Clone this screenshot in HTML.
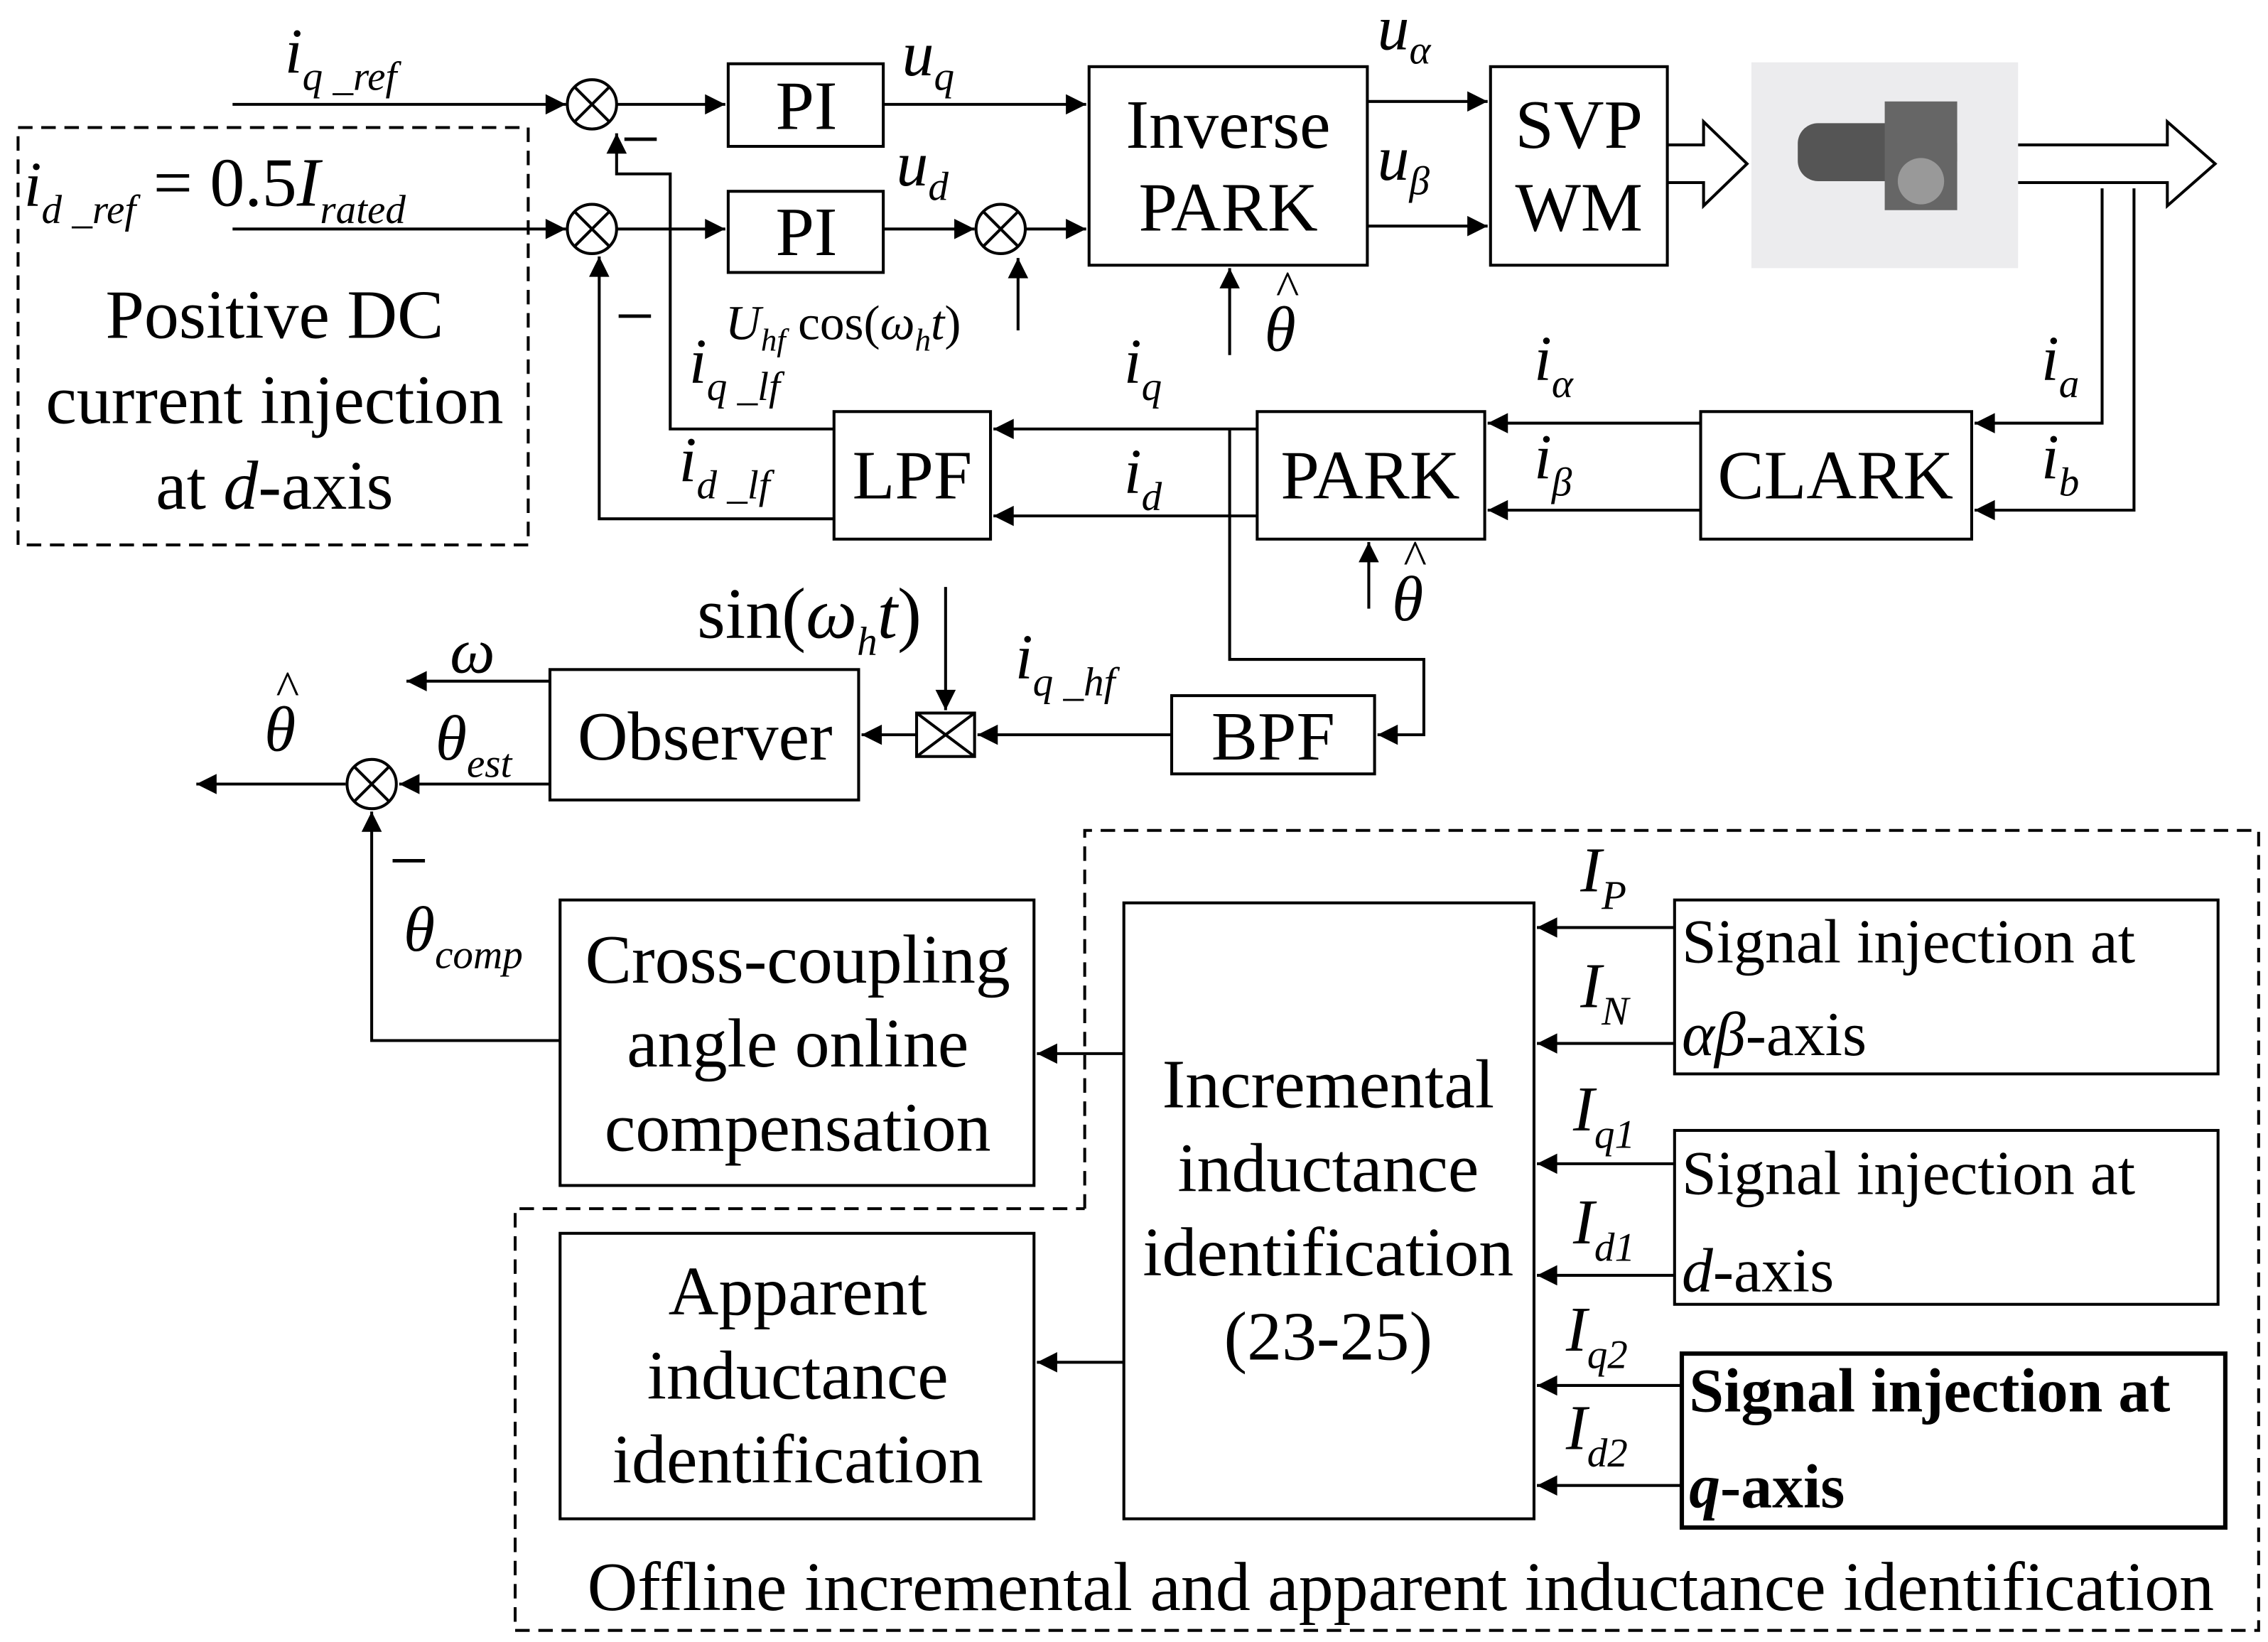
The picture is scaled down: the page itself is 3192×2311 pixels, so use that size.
<!DOCTYPE html>
<html><head><meta charset="utf-8"><style>
html,body{margin:0;padding:0;background:#fff;}
svg{display:block;}
text{font-family:"Liberation Serif",serif;fill:#000;}
.b{fill:#fff;stroke:#000;stroke-width:2;}
.l{fill:none;stroke:#000;stroke-width:2;}
.d{fill:none;stroke:#000;stroke-width:2;stroke-dasharray:10,6;}
.t{font-size:48px;}
.i{font-style:italic;font-size:44px;}
.s{font-style:italic;font-size:28px;}
.h{font-size:34px;font-style:normal;}
</style></head><body>
<svg width="3192" height="2311" viewBox="0 0 1564 1133" xmlns="http://www.w3.org/2000/svg">
<defs><marker id="A" viewBox="0 0 10 10" refX="10" refY="5" markerWidth="18" markerHeight="14" markerUnits="userSpaceOnUse" orient="auto"><path d="M0,0L10,5L0,10z" fill="#000"/></marker></defs>
<g marker-end="url(#A)">
<path class="l" d="M160,72H390"/>
<path class="l" d="M160,158H390"/>
<path class="l" d="M425,72H500"/>
<path class="l" d="M425,158H500"/>
<path class="l" d="M609,72H749"/>
<path class="l" d="M609,158H672"/>
<path class="l" d="M707,158H749"/>
<path class="l" d="M943,70H1026"/>
<path class="l" d="M943,156H1026"/>
<path class="l" d="M702,228V178"/>
<path class="l" d="M848,245V185"/>
<path class="l" d="M944,420V374"/>
<path class="l" d="M1450,130V292H1362"/>
<path class="l" d="M1472,130V352H1362"/>
<path class="l" d="M1173,292H1026"/>
<path class="l" d="M1173,352H1026"/>
<path class="l" d="M867,296H685"/>
<path class="l" d="M867,356H685"/>
<path class="l" d="M848,296V455H982V507H950"/>
<path class="l" d="M575,296H462V120H425V92"/>
<path class="l" d="M575,358H413V177"/>
<path class="l" d="M652,405V490"/>
<path class="l" d="M808,507H674"/>
<path class="l" d="M632,507H594"/>
<path class="l" d="M379,470H280"/>
<path class="l" d="M379,541H275"/>
<path class="l" d="M238,541H135"/>
<path class="l" d="M386,718H256V560"/>
<path class="l" d="M775,727H715"/>
<path class="l" d="M775,940H715"/>
<path class="l" d="M1155,640H1060"/>
<path class="l" d="M1155,720H1060"/>
<path class="l" d="M1155,803H1060"/>
<path class="l" d="M1155,880H1060"/>
<path class="l" d="M1160,956H1060"/>
<path class="l" d="M1160,1025H1060"/>
</g>
<path class="l" d="M1150,100H1175V84L1205,113L1175,142V126H1150"/>
<path class="l" d="M1392,100H1495V84L1528,113L1495,142V126H1392"/>
<rect x="1208" y="43" width="184" height="142" fill="#ececee"/>
<rect x="1240" y="85" width="110" height="40" rx="14" fill="#555"/>
<rect x="1300" y="70" width="50" height="75" fill="#666"/>
<circle cx="1325" cy="125" r="16" fill="#999"/>
<rect class="b" x="502" y="44" width="107" height="57"/>
<rect class="b" x="502" y="132" width="107" height="56"/>
<rect class="b" x="751" y="46" width="192" height="137"/>
<rect class="b" x="1028" y="46" width="122" height="137"/>
<rect class="b" x="1173" y="284" width="187" height="88"/>
<rect class="b" x="867" y="284" width="157" height="88"/>
<rect class="b" x="575" y="284" width="108" height="88"/>
<rect class="b" x="379" y="462" width="213" height="90"/>
<rect class="b" x="808" y="480" width="140" height="54"/>
<rect class="b" x="632" y="492" width="40" height="30"/>
<path class="l" d="M632,492L672,522M672,492L632,522"/>
<rect class="b" x="386" y="621" width="327" height="197"/>
<rect class="b" x="386" y="851" width="327" height="197"/>
<rect class="b" x="775" y="623" width="283" height="425"/>
<rect class="b" x="1155" y="621" width="375" height="120"/>
<rect class="b" x="1155" y="780" width="375" height="120"/>
<rect class="b" x="1160" y="934" width="375" height="120" style="stroke-width:3"/>
<rect class="d" x="12" y="88" width="352" height="288"/>
<path class="d" d="M748,834V573H1558V1125H355V834H748"/>
<g class="b">
<circle cx="408" cy="72" r="17"/><circle cx="408" cy="158" r="17"/>
<circle cx="690" cy="158" r="17"/><circle cx="256" cy="541" r="17"/></g>
<path class="l" d="M396,60L420,84M420,60L396,84M396,146L420,170M420,146L396,170M678,146L702,170M702,146L678,170M244,529L268,553M268,529L244,553"/>
<g class="t" text-anchor="middle">
<text x="556" y="89">PI</text><text x="556" y="176">PI</text>
<text x="847" y="102">Inverse</text><text x="847" y="159">PARK</text>
<text x="1089" y="102">SVP</text><text x="1089" y="159">WM</text>
<text x="1266" y="344">CLARK</text><text x="945" y="344">PARK</text><text x="629" y="344">LPF</text>
<text x="486" y="524">Observer</text><text x="878" y="524">BPF</text>
<text x="189" y="233">Positive DC</text><text x="189" y="292">current injection</text>
<text x="189" y="351">at <tspan font-style="italic">d</tspan>-axis</text>
<text x="550" y="678">Cross-coupling</text><text x="550" y="736">angle online</text><text x="550" y="794">compensation</text>
<text x="550" y="907">Apparent</text><text x="550" y="965">inductance</text><text x="550" y="1023">identification</text>
<text x="916" y="764">Incremental</text><text x="916" y="822">inductance</text><text x="916" y="880">identification</text><text x="916" y="938">(23-25)</text>
<text x="966" y="1111">Offline incremental and apparent inductance identification</text>
<text x="558" y="440" style="font-size:50px">sin(<tspan font-style="italic">ω</tspan><tspan font-size="28" font-style="italic" dy="12">h</tspan><tspan dy="-12" font-style="italic">t</tspan>)</text>
</g>
<g style="font-size:43px">
<text x="1160" y="664">Signal injection at</text><text x="1160" y="728"><tspan font-style="italic">αβ</tspan>-axis</text>
<text x="1160" y="824">Signal injection at</text><text x="1160" y="891"><tspan font-style="italic">d</tspan>-axis</text>
<text x="1165" y="974" font-weight="bold">Signal injection at</text><text x="1165" y="1040" font-weight="bold"><tspan font-style="italic">q</tspan>-axis</text>
</g>
<g class="i">
<text x="196" y="50">i<tspan class="s" dy="12">q _ref</tspan></text>
<text x="16" y="142">i<tspan class="s" dy="12">d _ref</tspan><tspan font-style="normal" dy="-12" font-size="48"> = 0.5</tspan><tspan font-size="48">I</tspan><tspan class="s" dy="12">rated</tspan></text>
<text x="622" y="52">u<tspan class="s" dy="10">q</tspan></text>
<text x="618" y="128">u<tspan class="s" dy="10">d</tspan></text>
<text x="950" y="34">u<tspan class="s" dy="10">α</tspan></text>
<text x="950" y="124">u<tspan class="s" dy="10">β</tspan></text>
<text x="500" y="234" style="font-size:34px">U<tspan style="font-size:22px" dy="8">hf</tspan><tspan dy="-8" font-style="normal"> cos(</tspan>ω<tspan style="font-size:22px" dy="8">h</tspan><tspan dy="-8">t</tspan><tspan font-style="normal">)</tspan></text>
<text x="872" y="242">θ</text><text x="880" y="210" class="h">^</text>
<text x="960" y="428">θ</text><text x="968" y="396" class="h">^</text>
<text x="182" y="518">θ</text><text x="190" y="486" class="h">^</text>
<text x="1408" y="262">i<tspan class="s" dy="12">a</tspan></text>
<text x="1408" y="330">i<tspan class="s" dy="12">b</tspan></text>
<text x="1058" y="262">i<tspan class="s" dy="12">α</tspan></text>
<text x="1058" y="330">i<tspan class="s" dy="12">β</tspan></text>
<text x="775" y="264">i<tspan class="s" dy="12">q</tspan></text>
<text x="775" y="340">i<tspan class="s" dy="12">d</tspan></text>
<text x="475" y="264">i<tspan class="s" dy="12">q _lf</tspan></text>
<text x="468" y="332">i<tspan class="s" dy="12">d _lf</tspan></text>
<text x="700" y="468">i<tspan class="s" dy="12">q _hf</tspan></text>
<text x="310" y="464">ω</text>
<text x="300" y="524">θ<tspan class="s" dy="12">est</tspan></text>
<text x="278" y="656">θ<tspan class="s" dy="12">comp</tspan></text>
<text x="1090" y="615">I<tspan class="s" dy="12">P</tspan></text>
<text x="1090" y="695">I<tspan class="s" dy="12">N</tspan></text>
<text x="1085" y="780">I<tspan class="s" dy="12">q1</tspan></text>
<text x="1085" y="858">I<tspan class="s" dy="12">d1</tspan></text>
<text x="1080" y="932">I<tspan class="s" dy="12">q2</tspan></text>
<text x="1080" y="1000">I<tspan class="s" dy="12">d2</tspan></text>
</g>
<g class="t">
<text x="428" y="112">−</text><text x="424" y="234">−</text><text x="268" y="610">−</text>
</g>
</svg>
</body></html>
